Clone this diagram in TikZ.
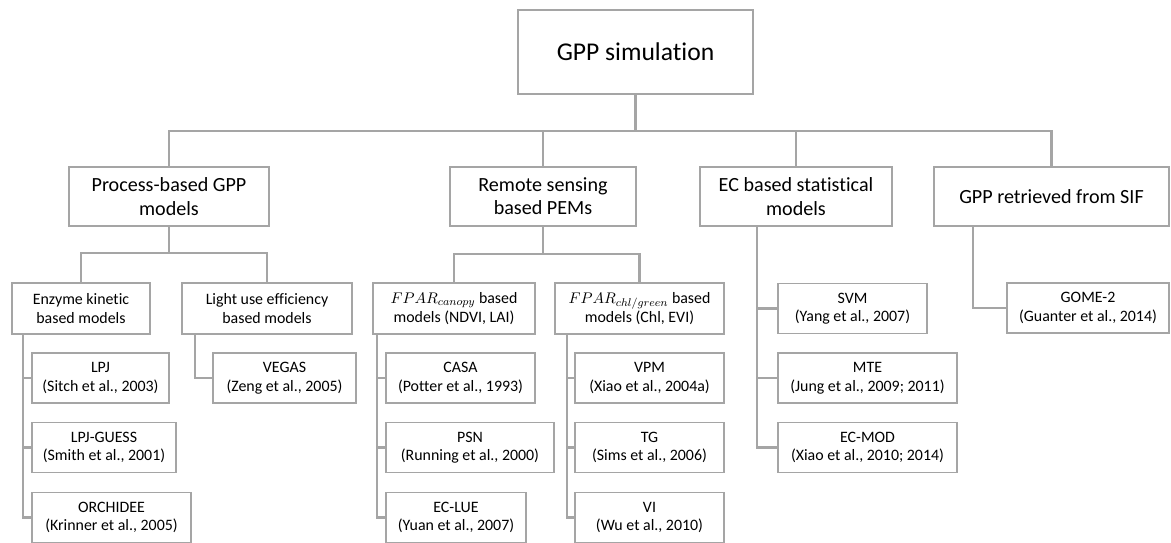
\documentclass[tikz,border=0pt]{standalone}
\usepackage{fontspec}
\setmainfont{Carlito}[Ligatures=NoCommon]
\usetikzlibrary{positioning,calc}
\definecolor{linegray}{RGB}{165,165,165}
\begin{document}
\begin{tikzpicture}[x=0.025cm,y=-0.025cm,font=\fontsize{11.3}{13.2}\selectfont]
\tikzstyle{b}=[draw=linegray,line width=1.1pt,align=center,inner sep=1pt]
\tikzstyle{l2}=[b,minimum height=1.475cm,font=\fontsize{14.3}{16.5}\selectfont]
\tikzstyle{l3}=[b,minimum height=1.275cm,font=\fontsize{11.3}{13.5}\selectfont]
\tikzstyle{lf}=[b,minimum height=1.25cm]
\tikzstyle{c}=[draw=linegray,line width=1.6pt]
\useasboundingbox (0,0) rectangle (1171,543);
\node[b,minimum width=5.875cm,minimum height=2.1cm,font=\fontsize{18.2}{22}\selectfont] (top) at (635.5,52) {GPP simulation};
\node[l2,minimum width=5cm] (proc) at (169,196.5) {Process-based GPP\\models};
\node[l2,minimum width=4.65cm] (rs) at (543,196.5) {Remote sensing\\based PEMs};
\node[l2,minimum width=4.8cm] (ec) at (796,196.5) {EC based statistical\\models};
\node[l2,minimum width=5.875cm] (sif) at (1051.5,196.5) {GPP retrieved from SIF};
\node[l3,minimum width=3.45cm] (enz) at (81,308.5) {Enzyme kinetic\\based models};
\node[l3,minimum width=4.25cm] (lue) at (267,308.5) {Light use efficiency\\based models};
\node[l3,minimum width=4.05cm] (can) at (454,308.5) {$FPAR_{canopy}$ based\\models (NDVI, LAI)};
\node[l3,minimum width=4.225cm] (chl) at (639.5,308.5) {$FPAR_{chl/green}$ based\\models (Chl, EVI)};
\node[lf,minimum width=3.425cm] (lpj) at (100.5,378) {LPJ\\(Sitch et al., 2003)};
\node[lf,minimum width=3.6cm] (lpjg) at (104,447.5) {LPJ-GUESS\\(Smith et al., 2001)};
\node[lf,minimum width=3.975cm] (orch) at (111.5,517.5) {ORCHIDEE\\(Krinner et al., 2005)};
\node[lf,minimum width=3.575cm] (vegas) at (284.5,378) {VEGAS\\(Zeng et al., 2005)};
\node[lf,minimum width=3.725cm] (casa) at (460.5,378) {CASA\\(Potter et al., 1993)};
\node[lf,minimum width=4.2cm] (psn) at (470,447.5) {PSN\\(Running et al., 2000)};
\node[lf,minimum width=3.5cm] (eclue) at (456,517.5) {EC-LUE\\(Yuan et al., 2007)};
\node[lf,minimum width=3.725cm] (vpm) at (649.5,378) {VPM\\(Xiao et al., 2004a)};
\node[lf,minimum width=3.725cm] (tg) at (649.5,447.5) {TG\\(Sims et al., 2006)};
\node[lf,minimum width=3.725cm] (vi) at (649.5,517.5) {VI\\(Wu et al., 2010)};
\node[lf,minimum width=3.725cm] (svm) at (852.5,308.5) {SVM\\(Yang et al., 2007)};
\node[lf,minimum width=4.475cm] (mte) at (867.5,378) {MTE\\(Jung et al., 2009; 2011)};
\node[lf,minimum width=4.475cm] (ecmod) at (867.5,447.5) {EC-MOD\\(Xiao et al., 2010; 2014)};
\node[lf,minimum width=4.05cm] (gome) at (1088,308) {GOME-2\\(Guanter et al., 2014)};
\coordinate (bus) at (0,131);
\coordinate (pbus) at (0,253);
\coordinate (rbus) at (0,254);
\draw[c] (top.south) -- (top.south |- bus);
\draw[c] (proc.north) -- (proc.north |- bus) -- (sif.north |- bus) -- (sif.north);
\draw[c] (rs.north) -- (rs.north |- bus);
\draw[c] (ec.north) -- (ec.north |- bus);
\draw[c] (proc.south) -- (proc.south |- pbus);
\draw[c] (enz.north) |- (lue.north |- pbus) -- (lue.north);
\draw[c] (rs.south) -- (rs.south |- rbus);
\draw[c] (can.north) |- (chl.north |- rbus) -- (chl.north);
\coordinate (enzs) at ($(enz.south west)+(12,0)$);
\draw[c] (enzs) |- (orch.west);
\draw[c] (lpj.west) -- (lpj.west -| enzs);
\draw[c] (lpjg.west) -- (lpjg.west -| enzs);
\coordinate (lues) at ($(lue.south west)+(14,0)$);
\draw[c] (lues) |- (vegas.west);
\coordinate (cans) at ($(can.south west)+(5,0)$);
\draw[c] (cans) |- (eclue.west);
\draw[c] (casa.west) -- (casa.west -| cans);
\draw[c] (psn.west) -- (psn.west -| cans);
\coordinate (chls) at ($(chl.south west)+(13,0)$);
\draw[c] (chls) |- (vi.west);
\draw[c] (vpm.west) -- (vpm.west -| chls);
\draw[c] (tg.west) -- (tg.west -| chls);
\coordinate (ecs) at ($(ec.south west)+(58,0)$);
\draw[c] (ecs) |- (ecmod.west);
\draw[c] (svm.west) -- (svm.west -| ecs);
\draw[c] (mte.west) -- (mte.west -| ecs);
\coordinate (sifs) at ($(sif.south west)+(40,0)$);
\draw[c] (sifs) |- (gome.west);
\end{tikzpicture}
\end{document}
